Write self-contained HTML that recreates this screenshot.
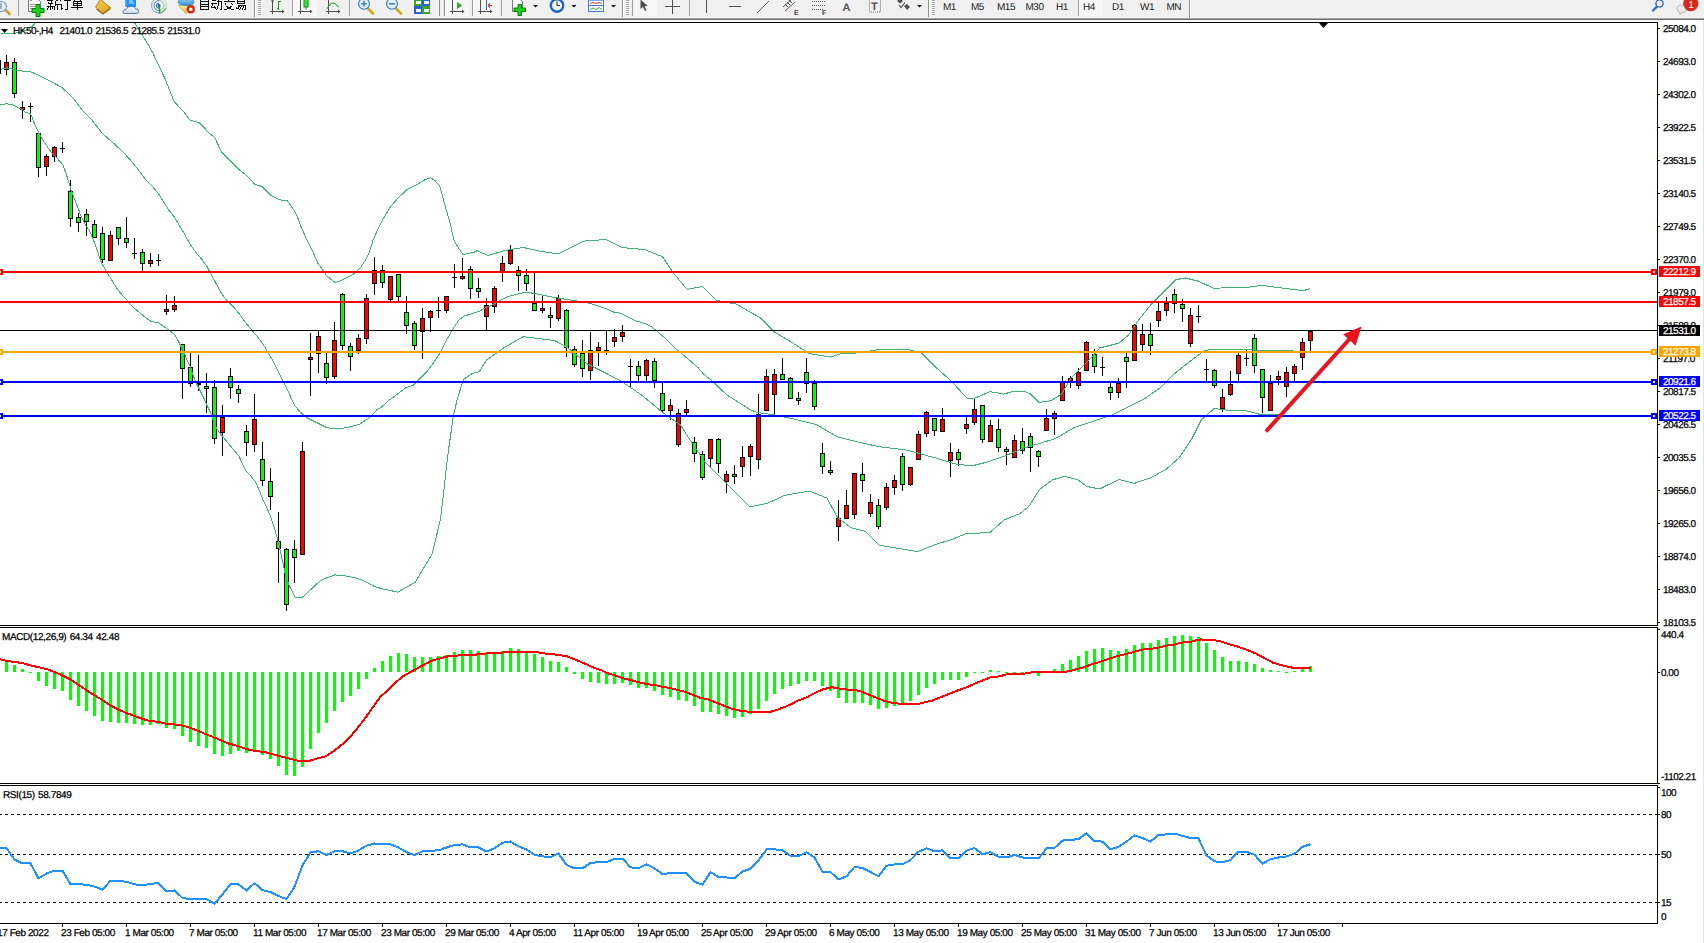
<!DOCTYPE html><html><head><meta charset="utf-8"><title>HK50 H4</title><style>html,body{margin:0;padding:0;background:#fff;overflow:hidden;width:1704px;height:943px}svg{display:block}text{font-family:"Liberation Sans",sans-serif;font-size:10px;letter-spacing:-0.5px;text-rendering:geometricPrecision;stroke-width:0.25px}</style></head><body>
<svg width="1704" height="943" viewBox="0 0 1704 943">
<rect x="0" y="0" width="1704" height="943" fill="#ffffff"/>
<g shape-rendering="crispEdges">
<rect x="-2" y="56" width="1" height="20" fill="#000"/>
<rect x="-4" y="60" width="5" height="14" fill="#000"/>
<rect x="-3" y="61" width="3" height="12" fill="#00ff00"/>
<rect x="6" y="55" width="1" height="20" fill="#000"/>
<rect x="4" y="62" width="5" height="8" fill="#000"/>
<rect x="5" y="63" width="3" height="6" fill="#ff0000"/>
<rect x="14" y="58" width="1" height="40" fill="#000"/>
<rect x="12" y="62" width="5" height="32" fill="#000"/>
<rect x="13" y="63" width="3" height="30" fill="#00ff00"/>
<rect x="22" y="101" width="1" height="18" fill="#000"/>
<rect x="20" y="107" width="5" height="3" fill="#000"/>
<rect x="21" y="108" width="3" height="1" fill="#ff0000"/>
<rect x="30" y="103" width="1" height="19" fill="#000"/>
<rect x="28" y="106" width="5" height="1" fill="#000"/>
<rect x="38" y="133" width="1" height="44" fill="#000"/>
<rect x="36" y="133" width="5" height="35" fill="#000"/>
<rect x="37" y="134" width="3" height="33" fill="#00ff00"/>
<rect x="46" y="154" width="1" height="22" fill="#000"/>
<rect x="44" y="156" width="5" height="11" fill="#000"/>
<rect x="45" y="157" width="3" height="9" fill="#ff0000"/>
<rect x="54" y="146" width="1" height="16" fill="#000"/>
<rect x="52" y="147" width="5" height="10" fill="#000"/>
<rect x="53" y="148" width="3" height="8" fill="#ff0000"/>
<rect x="62" y="142" width="1" height="11" fill="#000"/>
<rect x="60" y="148" width="5" height="1" fill="#000"/>
<rect x="70" y="180" width="1" height="47" fill="#000"/>
<rect x="68" y="191" width="5" height="28" fill="#000"/>
<rect x="69" y="192" width="3" height="26" fill="#00ff00"/>
<rect x="78" y="213" width="1" height="19" fill="#000"/>
<rect x="76" y="217" width="5" height="6" fill="#000"/>
<rect x="77" y="218" width="3" height="4" fill="#00ff00"/>
<rect x="86" y="209" width="1" height="27" fill="#000"/>
<rect x="84" y="214" width="5" height="8" fill="#000"/>
<rect x="85" y="215" width="3" height="6" fill="#00ff00"/>
<rect x="94" y="220" width="1" height="18" fill="#000"/>
<rect x="92" y="224" width="5" height="14" fill="#000"/>
<rect x="93" y="225" width="3" height="12" fill="#00ff00"/>
<rect x="102" y="227" width="1" height="36" fill="#000"/>
<rect x="100" y="233" width="5" height="27" fill="#000"/>
<rect x="101" y="234" width="3" height="25" fill="#00ff00"/>
<rect x="110" y="231" width="1" height="30" fill="#000"/>
<rect x="108" y="235" width="5" height="26" fill="#000"/>
<rect x="109" y="236" width="3" height="24" fill="#ff0000"/>
<rect x="118" y="227" width="1" height="18" fill="#000"/>
<rect x="116" y="227" width="5" height="12" fill="#000"/>
<rect x="117" y="228" width="3" height="10" fill="#00ff00"/>
<rect x="126" y="217" width="1" height="31" fill="#000"/>
<rect x="124" y="238" width="5" height="5" fill="#000"/>
<rect x="125" y="239" width="3" height="3" fill="#00ff00"/>
<rect x="134" y="238" width="1" height="21" fill="#000"/>
<rect x="132" y="253" width="5" height="1" fill="#000"/>
<rect x="142" y="249" width="1" height="22" fill="#000"/>
<rect x="140" y="252" width="5" height="12" fill="#000"/>
<rect x="141" y="253" width="3" height="10" fill="#00ff00"/>
<rect x="150" y="253" width="1" height="14" fill="#000"/>
<rect x="148" y="260" width="5" height="4" fill="#000"/>
<rect x="149" y="261" width="3" height="2" fill="#ff0000"/>
<rect x="158" y="254" width="1" height="12" fill="#000"/>
<rect x="156" y="260" width="5" height="1" fill="#000"/>
<rect x="166" y="295" width="1" height="20" fill="#000"/>
<rect x="164" y="309" width="5" height="3" fill="#000"/>
<rect x="165" y="310" width="3" height="1" fill="#ff0000"/>
<rect x="174" y="296" width="1" height="16" fill="#000"/>
<rect x="172" y="305" width="5" height="5" fill="#000"/>
<rect x="173" y="306" width="3" height="3" fill="#ff0000"/>
<rect x="182" y="344" width="1" height="55" fill="#000"/>
<rect x="180" y="344" width="5" height="25" fill="#000"/>
<rect x="181" y="345" width="3" height="23" fill="#00ff00"/>
<rect x="190" y="353" width="1" height="34" fill="#000"/>
<rect x="188" y="367" width="5" height="17" fill="#000"/>
<rect x="189" y="368" width="3" height="15" fill="#00ff00"/>
<rect x="198" y="355" width="1" height="36" fill="#000"/>
<rect x="196" y="383" width="5" height="2" fill="#000"/>
<rect x="206" y="373" width="1" height="40" fill="#000"/>
<rect x="204" y="386" width="5" height="3" fill="#000"/>
<rect x="205" y="387" width="3" height="1" fill="#00ff00"/>
<rect x="214" y="380" width="1" height="64" fill="#000"/>
<rect x="212" y="387" width="5" height="52" fill="#000"/>
<rect x="213" y="388" width="3" height="50" fill="#00ff00"/>
<rect x="222" y="405" width="1" height="51" fill="#000"/>
<rect x="220" y="417" width="5" height="16" fill="#000"/>
<rect x="221" y="418" width="3" height="14" fill="#ff0000"/>
<rect x="230" y="368" width="1" height="31" fill="#000"/>
<rect x="228" y="376" width="5" height="12" fill="#000"/>
<rect x="229" y="377" width="3" height="10" fill="#00ff00"/>
<rect x="238" y="385" width="1" height="18" fill="#000"/>
<rect x="236" y="389" width="5" height="5" fill="#000"/>
<rect x="237" y="390" width="3" height="3" fill="#00ff00"/>
<rect x="246" y="425" width="1" height="31" fill="#000"/>
<rect x="244" y="431" width="5" height="12" fill="#000"/>
<rect x="245" y="432" width="3" height="10" fill="#00ff00"/>
<rect x="254" y="394" width="1" height="58" fill="#000"/>
<rect x="252" y="419" width="5" height="26" fill="#000"/>
<rect x="253" y="420" width="3" height="24" fill="#ff0000"/>
<rect x="262" y="442" width="1" height="44" fill="#000"/>
<rect x="260" y="459" width="5" height="22" fill="#000"/>
<rect x="261" y="460" width="3" height="20" fill="#00ff00"/>
<rect x="270" y="468" width="1" height="42" fill="#000"/>
<rect x="268" y="481" width="5" height="16" fill="#000"/>
<rect x="269" y="482" width="3" height="14" fill="#00ff00"/>
<rect x="278" y="512" width="1" height="71" fill="#000"/>
<rect x="276" y="541" width="5" height="8" fill="#000"/>
<rect x="277" y="542" width="3" height="6" fill="#00ff00"/>
<rect x="286" y="548" width="1" height="63" fill="#000"/>
<rect x="284" y="549" width="5" height="56" fill="#000"/>
<rect x="285" y="550" width="3" height="54" fill="#00ff00"/>
<rect x="294" y="540" width="1" height="43" fill="#000"/>
<rect x="292" y="549" width="5" height="9" fill="#000"/>
<rect x="293" y="550" width="3" height="7" fill="#00ff00"/>
<rect x="302" y="442" width="1" height="113" fill="#000"/>
<rect x="300" y="451" width="5" height="104" fill="#000"/>
<rect x="301" y="452" width="3" height="102" fill="#ff0000"/>
<rect x="310" y="333" width="1" height="63" fill="#000"/>
<rect x="308" y="357" width="5" height="3" fill="#000"/>
<rect x="309" y="358" width="3" height="1" fill="#ff0000"/>
<rect x="318" y="331" width="1" height="42" fill="#000"/>
<rect x="316" y="336" width="5" height="18" fill="#000"/>
<rect x="317" y="337" width="3" height="16" fill="#ff0000"/>
<rect x="326" y="353" width="1" height="31" fill="#000"/>
<rect x="324" y="363" width="5" height="15" fill="#000"/>
<rect x="325" y="364" width="3" height="13" fill="#00ff00"/>
<rect x="334" y="322" width="1" height="57" fill="#000"/>
<rect x="332" y="340" width="5" height="37" fill="#000"/>
<rect x="333" y="341" width="3" height="35" fill="#ff0000"/>
<rect x="342" y="293" width="1" height="57" fill="#000"/>
<rect x="340" y="294" width="5" height="52" fill="#000"/>
<rect x="341" y="295" width="3" height="50" fill="#00ff00"/>
<rect x="350" y="343" width="1" height="28" fill="#000"/>
<rect x="348" y="346" width="5" height="11" fill="#000"/>
<rect x="349" y="347" width="3" height="9" fill="#00ff00"/>
<rect x="358" y="334" width="1" height="20" fill="#000"/>
<rect x="356" y="338" width="5" height="13" fill="#000"/>
<rect x="357" y="339" width="3" height="11" fill="#ff0000"/>
<rect x="366" y="294" width="1" height="50" fill="#000"/>
<rect x="364" y="298" width="5" height="41" fill="#000"/>
<rect x="365" y="299" width="3" height="39" fill="#ff0000"/>
<rect x="374" y="257" width="1" height="38" fill="#000"/>
<rect x="372" y="270" width="5" height="14" fill="#000"/>
<rect x="373" y="271" width="3" height="12" fill="#ff0000"/>
<rect x="382" y="265" width="1" height="23" fill="#000"/>
<rect x="380" y="270" width="5" height="13" fill="#000"/>
<rect x="381" y="271" width="3" height="11" fill="#00ff00"/>
<rect x="390" y="276" width="1" height="25" fill="#000"/>
<rect x="388" y="276" width="5" height="24" fill="#000"/>
<rect x="389" y="277" width="3" height="22" fill="#ff0000"/>
<rect x="398" y="274" width="1" height="27" fill="#000"/>
<rect x="396" y="274" width="5" height="23" fill="#000"/>
<rect x="397" y="275" width="3" height="21" fill="#00ff00"/>
<rect x="406" y="296" width="1" height="38" fill="#000"/>
<rect x="404" y="312" width="5" height="14" fill="#000"/>
<rect x="405" y="313" width="3" height="12" fill="#00ff00"/>
<rect x="414" y="321" width="1" height="29" fill="#000"/>
<rect x="412" y="323" width="5" height="23" fill="#000"/>
<rect x="413" y="324" width="3" height="21" fill="#00ff00"/>
<rect x="422" y="308" width="1" height="51" fill="#000"/>
<rect x="420" y="318" width="5" height="14" fill="#000"/>
<rect x="421" y="319" width="3" height="12" fill="#ff0000"/>
<rect x="430" y="310" width="1" height="22" fill="#000"/>
<rect x="428" y="311" width="5" height="7" fill="#000"/>
<rect x="429" y="312" width="3" height="5" fill="#ff0000"/>
<rect x="438" y="297" width="1" height="21" fill="#000"/>
<rect x="436" y="310" width="5" height="1" fill="#000"/>
<rect x="446" y="296" width="1" height="17" fill="#000"/>
<rect x="444" y="296" width="5" height="15" fill="#000"/>
<rect x="445" y="297" width="3" height="13" fill="#ff0000"/>
<rect x="454" y="264" width="1" height="24" fill="#000"/>
<rect x="452" y="277" width="5" height="1" fill="#000"/>
<rect x="462" y="258" width="1" height="22" fill="#000"/>
<rect x="460" y="276" width="5" height="3" fill="#000"/>
<rect x="461" y="277" width="3" height="1" fill="#ff0000"/>
<rect x="470" y="266" width="1" height="33" fill="#000"/>
<rect x="468" y="269" width="5" height="20" fill="#000"/>
<rect x="469" y="270" width="3" height="18" fill="#00ff00"/>
<rect x="478" y="278" width="1" height="20" fill="#000"/>
<rect x="476" y="288" width="5" height="4" fill="#000"/>
<rect x="477" y="289" width="3" height="2" fill="#00ff00"/>
<rect x="486" y="298" width="1" height="32" fill="#000"/>
<rect x="484" y="305" width="5" height="12" fill="#000"/>
<rect x="485" y="306" width="3" height="10" fill="#ff0000"/>
<rect x="494" y="286" width="1" height="27" fill="#000"/>
<rect x="492" y="288" width="5" height="19" fill="#000"/>
<rect x="493" y="289" width="3" height="17" fill="#ff0000"/>
<rect x="502" y="256" width="1" height="26" fill="#000"/>
<rect x="500" y="263" width="5" height="9" fill="#000"/>
<rect x="501" y="264" width="3" height="7" fill="#ff0000"/>
<rect x="510" y="245" width="1" height="20" fill="#000"/>
<rect x="508" y="250" width="5" height="14" fill="#000"/>
<rect x="509" y="251" width="3" height="12" fill="#ff0000"/>
<rect x="518" y="266" width="1" height="25" fill="#000"/>
<rect x="516" y="270" width="5" height="6" fill="#000"/>
<rect x="517" y="271" width="3" height="4" fill="#00ff00"/>
<rect x="526" y="269" width="1" height="22" fill="#000"/>
<rect x="524" y="275" width="5" height="9" fill="#000"/>
<rect x="525" y="276" width="3" height="7" fill="#00ff00"/>
<rect x="534" y="272" width="1" height="39" fill="#000"/>
<rect x="532" y="303" width="5" height="8" fill="#000"/>
<rect x="533" y="304" width="3" height="6" fill="#00ff00"/>
<rect x="542" y="295" width="1" height="18" fill="#000"/>
<rect x="540" y="308" width="5" height="3" fill="#000"/>
<rect x="541" y="309" width="3" height="1" fill="#ff0000"/>
<rect x="550" y="307" width="1" height="21" fill="#000"/>
<rect x="548" y="315" width="5" height="3" fill="#000"/>
<rect x="549" y="316" width="3" height="1" fill="#00ff00"/>
<rect x="558" y="295" width="1" height="26" fill="#000"/>
<rect x="556" y="298" width="5" height="21" fill="#000"/>
<rect x="557" y="299" width="3" height="19" fill="#ff0000"/>
<rect x="566" y="309" width="1" height="48" fill="#000"/>
<rect x="564" y="310" width="5" height="38" fill="#000"/>
<rect x="565" y="311" width="3" height="36" fill="#00ff00"/>
<rect x="574" y="346" width="1" height="21" fill="#000"/>
<rect x="572" y="349" width="5" height="16" fill="#000"/>
<rect x="573" y="350" width="3" height="14" fill="#00ff00"/>
<rect x="582" y="340" width="1" height="37" fill="#000"/>
<rect x="580" y="353" width="5" height="16" fill="#000"/>
<rect x="581" y="354" width="3" height="14" fill="#00ff00"/>
<rect x="590" y="332" width="1" height="48" fill="#000"/>
<rect x="588" y="350" width="5" height="21" fill="#000"/>
<rect x="589" y="351" width="3" height="19" fill="#ff0000"/>
<rect x="598" y="342" width="1" height="24" fill="#000"/>
<rect x="596" y="347" width="5" height="4" fill="#000"/>
<rect x="597" y="348" width="3" height="2" fill="#ff0000"/>
<rect x="606" y="331" width="1" height="24" fill="#000"/>
<rect x="604" y="350" width="5" height="1" fill="#000"/>
<rect x="614" y="329" width="1" height="18" fill="#000"/>
<rect x="612" y="337" width="5" height="5" fill="#000"/>
<rect x="613" y="338" width="3" height="3" fill="#ff0000"/>
<rect x="622" y="325" width="1" height="17" fill="#000"/>
<rect x="620" y="332" width="5" height="5" fill="#000"/>
<rect x="621" y="333" width="3" height="3" fill="#ff0000"/>
<rect x="630" y="359" width="1" height="29" fill="#000"/>
<rect x="628" y="366" width="5" height="1" fill="#000"/>
<rect x="638" y="361" width="1" height="20" fill="#000"/>
<rect x="636" y="366" width="5" height="10" fill="#000"/>
<rect x="637" y="367" width="3" height="8" fill="#00ff00"/>
<rect x="646" y="359" width="1" height="24" fill="#000"/>
<rect x="644" y="360" width="5" height="16" fill="#000"/>
<rect x="645" y="361" width="3" height="14" fill="#ff0000"/>
<rect x="654" y="358" width="1" height="30" fill="#000"/>
<rect x="652" y="361" width="5" height="20" fill="#000"/>
<rect x="653" y="362" width="3" height="18" fill="#00ff00"/>
<rect x="662" y="383" width="1" height="29" fill="#000"/>
<rect x="660" y="393" width="5" height="18" fill="#000"/>
<rect x="661" y="394" width="3" height="16" fill="#00ff00"/>
<rect x="670" y="399" width="1" height="21" fill="#000"/>
<rect x="668" y="405" width="5" height="6" fill="#000"/>
<rect x="669" y="406" width="3" height="4" fill="#ff0000"/>
<rect x="678" y="409" width="1" height="38" fill="#000"/>
<rect x="676" y="413" width="5" height="32" fill="#000"/>
<rect x="677" y="414" width="3" height="30" fill="#ff0000"/>
<rect x="686" y="400" width="1" height="15" fill="#000"/>
<rect x="684" y="409" width="5" height="4" fill="#000"/>
<rect x="685" y="410" width="3" height="2" fill="#ff0000"/>
<rect x="694" y="437" width="1" height="25" fill="#000"/>
<rect x="692" y="442" width="5" height="12" fill="#000"/>
<rect x="693" y="443" width="3" height="10" fill="#00ff00"/>
<rect x="702" y="451" width="1" height="29" fill="#000"/>
<rect x="700" y="454" width="5" height="24" fill="#000"/>
<rect x="701" y="455" width="3" height="22" fill="#00ff00"/>
<rect x="710" y="439" width="1" height="29" fill="#000"/>
<rect x="708" y="439" width="5" height="20" fill="#000"/>
<rect x="709" y="440" width="3" height="18" fill="#ff0000"/>
<rect x="718" y="438" width="1" height="35" fill="#000"/>
<rect x="716" y="439" width="5" height="25" fill="#000"/>
<rect x="717" y="440" width="3" height="23" fill="#00ff00"/>
<rect x="726" y="471" width="1" height="22" fill="#000"/>
<rect x="724" y="474" width="5" height="8" fill="#000"/>
<rect x="725" y="475" width="3" height="6" fill="#ff0000"/>
<rect x="734" y="465" width="1" height="19" fill="#000"/>
<rect x="732" y="474" width="5" height="3" fill="#000"/>
<rect x="733" y="475" width="3" height="1" fill="#00ff00"/>
<rect x="742" y="446" width="1" height="31" fill="#000"/>
<rect x="740" y="457" width="5" height="10" fill="#000"/>
<rect x="741" y="458" width="3" height="8" fill="#ff0000"/>
<rect x="750" y="444" width="1" height="32" fill="#000"/>
<rect x="748" y="446" width="5" height="11" fill="#000"/>
<rect x="749" y="447" width="3" height="9" fill="#ff0000"/>
<rect x="758" y="394" width="1" height="75" fill="#000"/>
<rect x="756" y="414" width="5" height="46" fill="#000"/>
<rect x="757" y="415" width="3" height="44" fill="#ff0000"/>
<rect x="766" y="369" width="1" height="42" fill="#000"/>
<rect x="764" y="376" width="5" height="35" fill="#000"/>
<rect x="765" y="377" width="3" height="33" fill="#ff0000"/>
<rect x="774" y="369" width="1" height="46" fill="#000"/>
<rect x="772" y="374" width="5" height="21" fill="#000"/>
<rect x="773" y="375" width="3" height="19" fill="#ff0000"/>
<rect x="782" y="358" width="1" height="22" fill="#000"/>
<rect x="780" y="374" width="5" height="6" fill="#000"/>
<rect x="781" y="375" width="3" height="4" fill="#00ff00"/>
<rect x="790" y="377" width="1" height="22" fill="#000"/>
<rect x="788" y="378" width="5" height="21" fill="#000"/>
<rect x="789" y="379" width="3" height="19" fill="#00ff00"/>
<rect x="798" y="392" width="1" height="13" fill="#000"/>
<rect x="796" y="398" width="5" height="3" fill="#000"/>
<rect x="797" y="399" width="3" height="1" fill="#00ff00"/>
<rect x="806" y="358" width="1" height="35" fill="#000"/>
<rect x="804" y="372" width="5" height="12" fill="#000"/>
<rect x="805" y="373" width="3" height="10" fill="#00ff00"/>
<rect x="814" y="380" width="1" height="30" fill="#000"/>
<rect x="812" y="383" width="5" height="24" fill="#000"/>
<rect x="813" y="384" width="3" height="22" fill="#00ff00"/>
<rect x="822" y="443" width="1" height="31" fill="#000"/>
<rect x="820" y="453" width="5" height="14" fill="#000"/>
<rect x="821" y="454" width="3" height="12" fill="#00ff00"/>
<rect x="830" y="461" width="1" height="14" fill="#000"/>
<rect x="828" y="470" width="5" height="3" fill="#000"/>
<rect x="829" y="471" width="3" height="1" fill="#00ff00"/>
<rect x="838" y="500" width="1" height="41" fill="#000"/>
<rect x="836" y="518" width="5" height="9" fill="#000"/>
<rect x="837" y="519" width="3" height="7" fill="#ff0000"/>
<rect x="846" y="490" width="1" height="29" fill="#000"/>
<rect x="844" y="505" width="5" height="14" fill="#000"/>
<rect x="845" y="506" width="3" height="12" fill="#ff0000"/>
<rect x="854" y="473" width="1" height="46" fill="#000"/>
<rect x="852" y="473" width="5" height="42" fill="#000"/>
<rect x="853" y="474" width="3" height="40" fill="#ff0000"/>
<rect x="862" y="463" width="1" height="29" fill="#000"/>
<rect x="860" y="474" width="5" height="7" fill="#000"/>
<rect x="861" y="475" width="3" height="5" fill="#00ff00"/>
<rect x="870" y="494" width="1" height="23" fill="#000"/>
<rect x="868" y="502" width="5" height="12" fill="#000"/>
<rect x="869" y="503" width="3" height="10" fill="#ff0000"/>
<rect x="878" y="499" width="1" height="30" fill="#000"/>
<rect x="876" y="505" width="5" height="22" fill="#000"/>
<rect x="877" y="506" width="3" height="20" fill="#00ff00"/>
<rect x="886" y="483" width="1" height="27" fill="#000"/>
<rect x="884" y="487" width="5" height="21" fill="#000"/>
<rect x="885" y="488" width="3" height="19" fill="#ff0000"/>
<rect x="894" y="475" width="1" height="20" fill="#000"/>
<rect x="892" y="480" width="5" height="8" fill="#000"/>
<rect x="893" y="481" width="3" height="6" fill="#ff0000"/>
<rect x="902" y="453" width="1" height="38" fill="#000"/>
<rect x="900" y="456" width="5" height="29" fill="#000"/>
<rect x="901" y="457" width="3" height="27" fill="#00ff00"/>
<rect x="910" y="467" width="1" height="19" fill="#000"/>
<rect x="908" y="467" width="5" height="18" fill="#000"/>
<rect x="909" y="468" width="3" height="16" fill="#ff0000"/>
<rect x="918" y="431" width="1" height="29" fill="#000"/>
<rect x="916" y="434" width="5" height="26" fill="#000"/>
<rect x="917" y="435" width="3" height="24" fill="#ff0000"/>
<rect x="926" y="411" width="1" height="26" fill="#000"/>
<rect x="924" y="412" width="5" height="22" fill="#000"/>
<rect x="925" y="413" width="3" height="20" fill="#ff0000"/>
<rect x="934" y="418" width="1" height="18" fill="#000"/>
<rect x="932" y="418" width="5" height="13" fill="#000"/>
<rect x="933" y="419" width="3" height="11" fill="#00ff00"/>
<rect x="942" y="408" width="1" height="24" fill="#000"/>
<rect x="940" y="419" width="5" height="13" fill="#000"/>
<rect x="941" y="420" width="3" height="11" fill="#ff0000"/>
<rect x="950" y="443" width="1" height="34" fill="#000"/>
<rect x="948" y="452" width="5" height="9" fill="#000"/>
<rect x="949" y="453" width="3" height="7" fill="#ff0000"/>
<rect x="958" y="449" width="1" height="17" fill="#000"/>
<rect x="956" y="452" width="5" height="8" fill="#000"/>
<rect x="957" y="453" width="3" height="6" fill="#00ff00"/>
<rect x="966" y="417" width="1" height="17" fill="#000"/>
<rect x="964" y="424" width="5" height="5" fill="#000"/>
<rect x="965" y="425" width="3" height="3" fill="#ff0000"/>
<rect x="974" y="398" width="1" height="27" fill="#000"/>
<rect x="972" y="409" width="5" height="14" fill="#000"/>
<rect x="973" y="410" width="3" height="12" fill="#ff0000"/>
<rect x="982" y="405" width="1" height="38" fill="#000"/>
<rect x="980" y="405" width="5" height="35" fill="#000"/>
<rect x="981" y="406" width="3" height="33" fill="#00ff00"/>
<rect x="990" y="420" width="1" height="22" fill="#000"/>
<rect x="988" y="425" width="5" height="17" fill="#000"/>
<rect x="989" y="426" width="3" height="15" fill="#ff0000"/>
<rect x="998" y="419" width="1" height="33" fill="#000"/>
<rect x="996" y="429" width="5" height="19" fill="#000"/>
<rect x="997" y="430" width="3" height="17" fill="#00ff00"/>
<rect x="1006" y="447" width="1" height="18" fill="#000"/>
<rect x="1004" y="449" width="5" height="3" fill="#000"/>
<rect x="1005" y="450" width="3" height="1" fill="#00ff00"/>
<rect x="1014" y="435" width="1" height="23" fill="#000"/>
<rect x="1012" y="440" width="5" height="18" fill="#000"/>
<rect x="1013" y="441" width="3" height="16" fill="#ff0000"/>
<rect x="1022" y="428" width="1" height="26" fill="#000"/>
<rect x="1020" y="441" width="5" height="10" fill="#000"/>
<rect x="1021" y="442" width="3" height="8" fill="#00ff00"/>
<rect x="1030" y="433" width="1" height="39" fill="#000"/>
<rect x="1028" y="436" width="5" height="12" fill="#000"/>
<rect x="1029" y="437" width="3" height="10" fill="#00ff00"/>
<rect x="1038" y="450" width="1" height="17" fill="#000"/>
<rect x="1036" y="451" width="5" height="6" fill="#000"/>
<rect x="1037" y="452" width="3" height="4" fill="#00ff00"/>
<rect x="1046" y="409" width="1" height="22" fill="#000"/>
<rect x="1044" y="418" width="5" height="13" fill="#000"/>
<rect x="1045" y="419" width="3" height="11" fill="#ff0000"/>
<rect x="1054" y="411" width="1" height="24" fill="#000"/>
<rect x="1052" y="413" width="5" height="6" fill="#000"/>
<rect x="1053" y="414" width="3" height="4" fill="#ff0000"/>
<rect x="1062" y="376" width="1" height="25" fill="#000"/>
<rect x="1060" y="382" width="5" height="19" fill="#000"/>
<rect x="1061" y="383" width="3" height="17" fill="#ff0000"/>
<rect x="1070" y="376" width="1" height="12" fill="#000"/>
<rect x="1068" y="378" width="5" height="4" fill="#000"/>
<rect x="1069" y="379" width="3" height="2" fill="#ff0000"/>
<rect x="1078" y="368" width="1" height="21" fill="#000"/>
<rect x="1076" y="372" width="5" height="14" fill="#000"/>
<rect x="1077" y="373" width="3" height="12" fill="#ff0000"/>
<rect x="1086" y="341" width="1" height="30" fill="#000"/>
<rect x="1084" y="342" width="5" height="29" fill="#000"/>
<rect x="1085" y="343" width="3" height="27" fill="#ff0000"/>
<rect x="1094" y="349" width="1" height="24" fill="#000"/>
<rect x="1092" y="354" width="5" height="13" fill="#000"/>
<rect x="1093" y="355" width="3" height="11" fill="#00ff00"/>
<rect x="1102" y="357" width="1" height="19" fill="#000"/>
<rect x="1100" y="367" width="5" height="1" fill="#000"/>
<rect x="1110" y="383" width="1" height="17" fill="#000"/>
<rect x="1108" y="387" width="5" height="6" fill="#000"/>
<rect x="1109" y="388" width="3" height="4" fill="#00ff00"/>
<rect x="1118" y="378" width="1" height="20" fill="#000"/>
<rect x="1116" y="383" width="5" height="10" fill="#000"/>
<rect x="1117" y="384" width="3" height="8" fill="#ff0000"/>
<rect x="1126" y="353" width="1" height="35" fill="#000"/>
<rect x="1124" y="357" width="5" height="5" fill="#000"/>
<rect x="1125" y="358" width="3" height="3" fill="#00ff00"/>
<rect x="1134" y="324" width="1" height="37" fill="#000"/>
<rect x="1132" y="325" width="5" height="36" fill="#000"/>
<rect x="1133" y="326" width="3" height="34" fill="#ff0000"/>
<rect x="1142" y="324" width="1" height="27" fill="#000"/>
<rect x="1140" y="334" width="5" height="11" fill="#000"/>
<rect x="1141" y="335" width="3" height="9" fill="#ff0000"/>
<rect x="1150" y="323" width="1" height="32" fill="#000"/>
<rect x="1148" y="334" width="5" height="12" fill="#000"/>
<rect x="1149" y="335" width="3" height="10" fill="#00ff00"/>
<rect x="1158" y="303" width="1" height="24" fill="#000"/>
<rect x="1156" y="311" width="5" height="10" fill="#000"/>
<rect x="1157" y="312" width="3" height="8" fill="#ff0000"/>
<rect x="1166" y="297" width="1" height="19" fill="#000"/>
<rect x="1164" y="303" width="5" height="8" fill="#000"/>
<rect x="1165" y="304" width="3" height="6" fill="#ff0000"/>
<rect x="1174" y="289" width="1" height="24" fill="#000"/>
<rect x="1172" y="294" width="5" height="10" fill="#000"/>
<rect x="1173" y="295" width="3" height="8" fill="#00ff00"/>
<rect x="1182" y="299" width="1" height="23" fill="#000"/>
<rect x="1180" y="304" width="5" height="5" fill="#000"/>
<rect x="1181" y="305" width="3" height="3" fill="#00ff00"/>
<rect x="1190" y="308" width="1" height="39" fill="#000"/>
<rect x="1188" y="315" width="5" height="29" fill="#000"/>
<rect x="1189" y="316" width="3" height="27" fill="#ff0000"/>
<rect x="1198" y="305" width="1" height="18" fill="#000"/>
<rect x="1196" y="316" width="5" height="1" fill="#000"/>
<rect x="1206" y="359" width="1" height="22" fill="#000"/>
<rect x="1204" y="369" width="5" height="1" fill="#000"/>
<rect x="1214" y="369" width="1" height="19" fill="#000"/>
<rect x="1212" y="370" width="5" height="16" fill="#000"/>
<rect x="1213" y="371" width="3" height="14" fill="#00ff00"/>
<rect x="1222" y="389" width="1" height="23" fill="#000"/>
<rect x="1220" y="397" width="5" height="12" fill="#000"/>
<rect x="1221" y="398" width="3" height="10" fill="#ff0000"/>
<rect x="1230" y="371" width="1" height="25" fill="#000"/>
<rect x="1228" y="384" width="5" height="11" fill="#000"/>
<rect x="1229" y="385" width="3" height="9" fill="#ff0000"/>
<rect x="1238" y="353" width="1" height="28" fill="#000"/>
<rect x="1236" y="355" width="5" height="19" fill="#000"/>
<rect x="1237" y="356" width="3" height="17" fill="#ff0000"/>
<rect x="1246" y="350" width="1" height="16" fill="#000"/>
<rect x="1244" y="358" width="5" height="1" fill="#000"/>
<rect x="1254" y="334" width="1" height="39" fill="#000"/>
<rect x="1252" y="338" width="5" height="28" fill="#000"/>
<rect x="1253" y="339" width="3" height="26" fill="#00ff00"/>
<rect x="1262" y="369" width="1" height="44" fill="#000"/>
<rect x="1260" y="369" width="5" height="29" fill="#000"/>
<rect x="1261" y="370" width="3" height="27" fill="#00ff00"/>
<rect x="1270" y="375" width="1" height="36" fill="#000"/>
<rect x="1268" y="383" width="5" height="28" fill="#000"/>
<rect x="1269" y="384" width="3" height="26" fill="#ff0000"/>
<rect x="1278" y="371" width="1" height="14" fill="#000"/>
<rect x="1276" y="376" width="5" height="4" fill="#000"/>
<rect x="1277" y="377" width="3" height="2" fill="#ff0000"/>
<rect x="1286" y="367" width="1" height="30" fill="#000"/>
<rect x="1284" y="372" width="5" height="15" fill="#000"/>
<rect x="1285" y="373" width="3" height="13" fill="#ff0000"/>
<rect x="1294" y="364" width="1" height="17" fill="#000"/>
<rect x="1292" y="366" width="5" height="8" fill="#000"/>
<rect x="1293" y="367" width="3" height="6" fill="#ff0000"/>
<rect x="1302" y="338" width="1" height="32" fill="#000"/>
<rect x="1300" y="342" width="5" height="16" fill="#000"/>
<rect x="1301" y="343" width="3" height="14" fill="#ff0000"/>
<rect x="1310" y="330" width="1" height="21" fill="#000"/>
<rect x="1308" y="331" width="5" height="10" fill="#000"/>
<rect x="1309" y="332" width="3" height="8" fill="#ff0000"/>
</g>
<g>
<polyline points="0.5,34.1 2.8,33.7 15.8,33 20.5,32.2 25.1,30.5 31,27.5 34.5,23.8 36.5,20.5" fill="none" stroke="#3cb371" stroke-width="1" stroke-linejoin="round" shape-rendering="crispEdges"/>
<polyline points="133.5,20.5 134.9,23.4 141.3,33.4 148.4,45.1 153.1,53.4 157.8,63.9 164.8,78 174.2,101.7 184.1,112.2 190,120.3 195.8,121.7 199.3,122.7 209.8,133.7 214.5,137.2 221.5,151.8 226.1,156.5 234.3,164.6 240.1,170.5 244.8,174 245.5,174.3 250.6,179.4 255,184.5 262,186.4 271,195.3 279.2,199.8 287.5,201 293.9,210 297.7,217.6 301.5,227.8 306.6,239.2 312.9,251.9 318,263.4 324.4,272.3 326.9,276.1 335.2,282.5 339.7,281 352.4,274.9 356.8,271.1 360.6,267.3 365.7,259.7 369.5,252 373.3,239.3 381,222.8 389.9,207.5 397.5,198.6 407.7,189 417.9,184 424.2,180.1 430.6,177.8 434.4,180.1 439.5,185.2 444.6,203.7 449.7,221.5 454.1,240.6 458.6,248.2 463,254.6 466.2,253.9 475.5,251.8 477,250.7 488.2,255.5 504.1,250.7 523.1,247.5 542.2,251.6 558.1,253.9 574,245.9 583.5,241.1 605.8,239.5 621.7,247.5 645,249.7 662.5,256.7 673,272.5 687,289.3 702.7,286.5 716.7,300.5 735.9,304 760.5,317.9 774.4,331.9 791.9,342.5 809.4,353.6 830.4,357.1 840.9,353.6 858.3,352.9 879.3,349.4 907.3,349.4 921.3,352.9 935.3,366.9 950.8,380.5 966.7,398 975.2,398 990,391.6 1003.8,394.1 1012.3,391.6 1025,391.6 1030.3,393.8 1038.8,402.2 1047.3,401.7 1051.9,399.9 1061.5,394.2 1071,378.3 1080.5,368.7 1090.1,359.2 1099.6,348 1118.7,343.2 1128.3,335.3 1137.8,321 1150.5,305.1 1163.3,292.3 1176,279.6 1185.5,278 1198.3,281.2 1214.2,288.5 1226.9,287.5 1246,287.5 1261.9,285.3 1277.9,287.5 1290.6,289.1 1303.3,290.7 1310.5,288.5" fill="none" stroke="#3cb371" stroke-width="1" stroke-linejoin="round" shape-rendering="crispEdges"/>
<polyline points="0.5,69.2 7.5,68 19.3,70.7 31.6,72.1 41.6,76.8 51,81.5 61.5,87.2 72.1,96.8 82.6,110.5 90.8,118.7 101.3,132.1 106,136.7 114.1,143.7 122.3,151.3 130.5,160.1 137.5,168.8 142.2,175.1 146.8,181 152.7,186.8 158.5,193.8 164.3,203.1 169.1,210.5 173.8,216.3 179.6,225.7 184.3,233.8 190.1,244.3 196,252.5 201.3,258.7 207.2,266.8 210.7,273.8 216.5,284.3 222.3,294.8 228.2,301.8 234,307.6 239.8,314.6 245.6,322.8 251.5,329.8 258.5,338 264.3,346.1 267.8,352 272.2,359.5 278,371.2 283.8,382.8 288.5,392.1 294.3,405 300.2,412 307.1,417.8 316.5,422.5 327,427.7 334,428.9 342.1,428.3 351.5,426.5 359.6,424.2 367.8,419 372.5,414.3 377.1,409.6 380.5,407.9 389.2,400.1 397.3,394.3 405.5,387.9 413.6,385 419.5,379.1 426.5,372.1 433.5,362.8 440.5,352.3 446.3,340.6 452.1,330.2 459.1,319.7 463.8,316.2 473.1,313.2 479,311.5 486,307.4 490.5,305.7 507.2,296.8 526.3,292 555,297.5 580.4,301.6 590.5,303.4 600,306.7 605.8,308.6 613.4,312 621,313.4 628.7,317.2 636.3,321 645.8,323.9 651.6,326.8 656.3,330.6 663,336.3 669.7,343 674.5,347.8 679.2,351.6 685.9,357.3 690.5,361.1 698.6,368.2 703.4,373.9 708.2,377.7 712.9,381.5 721.5,390.1 728.2,395.8 735.8,400.6 743.5,405.4 751.1,410.2 757.8,412.5 763.5,413.5 773.1,414.7 795.4,419.4 816.4,424.6 837.4,436.9 858.3,442.1 879.3,446.7 907.3,450.2 935.3,457.9 956.4,464.2 972.3,465.8 985.1,462.6 1004.2,456.2 1023.2,448.3 1036,444.5 1055.1,438.7 1074.2,427.6 1093.3,421.2 1112.4,414.9 1131.5,405.3 1144.2,398.9 1160.1,387.8 1172.8,375.1 1188.8,362.3 1204.7,350.3 1217.4,349 1239.7,349 1258.8,350.3 1277.9,350.5 1289,350.3 1296.5,351.5 1310.5,351.5" fill="none" stroke="#3cb371" stroke-width="1" stroke-linejoin="round" shape-rendering="crispEdges"/>
<polyline points="0.5,104.8 6.4,103.8 12.2,104.8 21.6,109.1 25.5,112.2 30.7,114 34.8,124.5 38.9,133.2 44.2,142 48.8,149 53.5,154.8 58.2,159.5 62.8,164.7 65.7,172.3 68.6,181.6 71,189.8 74.5,199.1 79.1,210.8 80.5,215.2 85.2,224.5 89.8,231.5 93.3,239.7 96.8,249 101.5,263 106.2,271.1 112,280.5 117.8,289.8 123.6,296.8 128.3,301.5 131.8,306.1 138.8,312 145.5,317.5 151.3,321.6 158.3,322.7 164.2,326.8 170,330.9 174.1,333.8 178.2,340.8 181.7,347.8 186.3,358.3 189.8,365.3 193.3,375.8 196.8,384 200.3,391 203.8,398 207.3,406.1 210.8,413.1 213.1,420.5 216,427.2 220.7,434.2 226.5,441.2 232.3,448.2 238.7,455.7 242.8,464.5 246.3,471.5 251,476.1 255.6,482 259.1,490.1 263.8,501.8 267.3,508.8 270.8,517 274.2,527.7 277.7,539.3 280,549.8 283.5,565 285.8,576.6 289.3,586 295.2,597.6 302.7,597 311.5,588.9 319.6,581.3 325.5,578.4 334.8,574.9 344.1,575.7 355.8,577.8 365.1,581.3 374.5,586.5 382.5,588.9 397.7,592.1 414.9,582.6 432.1,554 440.7,518.1 447.8,455.1 453.5,415 457.3,399.2 463.6,379.2 472.2,373.5 479.4,371.5 486.5,360 504.1,347.7 523.1,336.6 555,340.7 567.7,347.7 586.8,363.6 605.8,373.1 620.5,380.9 641.5,394.9 662.5,412.4 680,424.6 690.5,440.4 704.4,461.3 725.4,482.3 749.9,506.8 767.4,503.3 784.9,495.3 809.4,491.1 826.9,498.1 837.4,517.3 851.3,527.8 865.3,531.3 879.3,545.3 900.3,548.8 917.8,551.6 935.3,544.6 953.2,539 966,533.6 989.8,532.6 1004.2,519.9 1020.1,513.5 1029.6,505.6 1039.2,489.7 1051.9,480.1 1064.6,476.3 1077.4,479.5 1086.9,486.5 1099.6,489 1118.7,479.5 1134.6,483.3 1150.5,477.9 1166.5,469 1179.2,457.8 1191.9,438.7 1201.5,419.6 1214.2,408.5 1226.9,410.1 1246,410.7 1261.9,414.9 1274.7,414.9 1310.5,415.5" fill="none" stroke="#3cb371" stroke-width="1" stroke-linejoin="round" shape-rendering="crispEdges"/>
</g>
<g shape-rendering="crispEdges">
<rect x="0" y="271" width="1657" height="2" fill="#ff0000"/>
<rect x="-3" y="269" width="6" height="6" fill="#ff0000"/>
<rect x="-1" y="271" width="2" height="2" fill="#ffffff"/>
<rect x="1651" y="269" width="6" height="6" fill="#ff0000"/>
<rect x="1653" y="271" width="2" height="2" fill="#ffffff"/>
<rect x="0" y="301" width="1657" height="2" fill="#ff0000"/>
<rect x="0" y="330" width="1657" height="1" fill="#000000"/>
<rect x="0" y="351" width="1657" height="2" fill="#ffa500"/>
<rect x="-3" y="349" width="6" height="6" fill="#ffa500"/>
<rect x="-1" y="351" width="2" height="2" fill="#ffffff"/>
<rect x="1651" y="349" width="6" height="6" fill="#ffa500"/>
<rect x="1653" y="351" width="2" height="2" fill="#ffffff"/>
<rect x="0" y="381" width="1657" height="2" fill="#0000ff"/>
<rect x="-3" y="379" width="6" height="6" fill="#0000ff"/>
<rect x="-1" y="381" width="2" height="2" fill="#ffffff"/>
<rect x="1651" y="379" width="6" height="6" fill="#0000ff"/>
<rect x="1653" y="381" width="2" height="2" fill="#ffffff"/>
<rect x="0" y="415" width="1657" height="2" fill="#0000ff"/>
<rect x="-3" y="413" width="6" height="6" fill="#0000ff"/>
<rect x="-1" y="415" width="2" height="2" fill="#ffffff"/>
<rect x="1651" y="413" width="6" height="6" fill="#0000ff"/>
<rect x="1653" y="415" width="2" height="2" fill="#ffffff"/>
</g>
<g fill="#e8141e" stroke="none">
<line x1="1266" y1="431.5" x2="1350" y2="338.5" stroke="#e8141e" stroke-width="4"/>
<polygon points="1361.5,326.5 1343.2,334.2 1355.6,345.8"/>
</g>
<g shape-rendering="crispEdges">
<rect x="5" y="662" width="3" height="10" fill="#00ff00"/>
<rect x="13" y="665" width="3" height="7" fill="#00ff00"/>
<rect x="21" y="669" width="3" height="3" fill="#00ff00"/>
<rect x="29" y="672" width="3" height="1" fill="#00ff00"/>
<rect x="37" y="672" width="3" height="9" fill="#00ff00"/>
<rect x="45" y="672" width="3" height="14" fill="#00ff00"/>
<rect x="53" y="672" width="3" height="17" fill="#00ff00"/>
<rect x="61" y="672" width="3" height="19" fill="#00ff00"/>
<rect x="69" y="672" width="3" height="28" fill="#00ff00"/>
<rect x="77" y="672" width="3" height="34" fill="#00ff00"/>
<rect x="85" y="672" width="3" height="39" fill="#00ff00"/>
<rect x="93" y="672" width="3" height="44" fill="#00ff00"/>
<rect x="101" y="672" width="3" height="49" fill="#00ff00"/>
<rect x="109" y="672" width="3" height="50" fill="#00ff00"/>
<rect x="117" y="672" width="3" height="51" fill="#00ff00"/>
<rect x="125" y="672" width="3" height="51" fill="#00ff00"/>
<rect x="133" y="672" width="3" height="52" fill="#00ff00"/>
<rect x="141" y="672" width="3" height="53" fill="#00ff00"/>
<rect x="149" y="672" width="3" height="53" fill="#00ff00"/>
<rect x="157" y="672" width="3" height="52" fill="#00ff00"/>
<rect x="165" y="672" width="3" height="56" fill="#00ff00"/>
<rect x="173" y="672" width="3" height="57" fill="#00ff00"/>
<rect x="181" y="672" width="3" height="64" fill="#00ff00"/>
<rect x="189" y="672" width="3" height="70" fill="#00ff00"/>
<rect x="197" y="672" width="3" height="74" fill="#00ff00"/>
<rect x="205" y="672" width="3" height="76" fill="#00ff00"/>
<rect x="213" y="672" width="3" height="82" fill="#00ff00"/>
<rect x="221" y="672" width="3" height="84" fill="#00ff00"/>
<rect x="229" y="672" width="3" height="82" fill="#00ff00"/>
<rect x="237" y="672" width="3" height="79" fill="#00ff00"/>
<rect x="245" y="672" width="3" height="81" fill="#00ff00"/>
<rect x="253" y="672" width="3" height="79" fill="#00ff00"/>
<rect x="261" y="672" width="3" height="83" fill="#00ff00"/>
<rect x="269" y="672" width="3" height="87" fill="#00ff00"/>
<rect x="277" y="672" width="3" height="94" fill="#00ff00"/>
<rect x="285" y="672" width="3" height="103" fill="#00ff00"/>
<rect x="293" y="672" width="3" height="104" fill="#00ff00"/>
<rect x="301" y="672" width="3" height="95" fill="#00ff00"/>
<rect x="309" y="672" width="3" height="77" fill="#00ff00"/>
<rect x="317" y="672" width="3" height="61" fill="#00ff00"/>
<rect x="325" y="672" width="3" height="51" fill="#00ff00"/>
<rect x="333" y="672" width="3" height="39" fill="#00ff00"/>
<rect x="341" y="672" width="3" height="30" fill="#00ff00"/>
<rect x="349" y="672" width="3" height="24" fill="#00ff00"/>
<rect x="357" y="672" width="3" height="17" fill="#00ff00"/>
<rect x="365" y="672" width="3" height="7" fill="#00ff00"/>
<rect x="373" y="668" width="3" height="4" fill="#00ff00"/>
<rect x="381" y="661" width="3" height="11" fill="#00ff00"/>
<rect x="389" y="656" width="3" height="16" fill="#00ff00"/>
<rect x="397" y="653" width="3" height="19" fill="#00ff00"/>
<rect x="405" y="654" width="3" height="18" fill="#00ff00"/>
<rect x="413" y="657" width="3" height="15" fill="#00ff00"/>
<rect x="421" y="657" width="3" height="15" fill="#00ff00"/>
<rect x="429" y="657" width="3" height="15" fill="#00ff00"/>
<rect x="437" y="656" width="3" height="16" fill="#00ff00"/>
<rect x="445" y="655" width="3" height="17" fill="#00ff00"/>
<rect x="453" y="652" width="3" height="20" fill="#00ff00"/>
<rect x="461" y="650" width="3" height="22" fill="#00ff00"/>
<rect x="469" y="650" width="3" height="22" fill="#00ff00"/>
<rect x="477" y="651" width="3" height="21" fill="#00ff00"/>
<rect x="485" y="654" width="3" height="18" fill="#00ff00"/>
<rect x="493" y="654" width="3" height="18" fill="#00ff00"/>
<rect x="501" y="651" width="3" height="21" fill="#00ff00"/>
<rect x="509" y="648" width="3" height="24" fill="#00ff00"/>
<rect x="517" y="649" width="3" height="23" fill="#00ff00"/>
<rect x="525" y="651" width="3" height="21" fill="#00ff00"/>
<rect x="533" y="654" width="3" height="18" fill="#00ff00"/>
<rect x="541" y="657" width="3" height="15" fill="#00ff00"/>
<rect x="549" y="661" width="3" height="11" fill="#00ff00"/>
<rect x="557" y="662" width="3" height="10" fill="#00ff00"/>
<rect x="565" y="667" width="3" height="5" fill="#00ff00"/>
<rect x="573" y="672" width="3" height="2" fill="#00ff00"/>
<rect x="581" y="672" width="3" height="7" fill="#00ff00"/>
<rect x="589" y="672" width="3" height="10" fill="#00ff00"/>
<rect x="597" y="672" width="3" height="11" fill="#00ff00"/>
<rect x="605" y="672" width="3" height="12" fill="#00ff00"/>
<rect x="613" y="672" width="3" height="12" fill="#00ff00"/>
<rect x="621" y="672" width="3" height="11" fill="#00ff00"/>
<rect x="629" y="672" width="3" height="13" fill="#00ff00"/>
<rect x="637" y="672" width="3" height="16" fill="#00ff00"/>
<rect x="645" y="672" width="3" height="16" fill="#00ff00"/>
<rect x="653" y="672" width="3" height="19" fill="#00ff00"/>
<rect x="661" y="672" width="3" height="23" fill="#00ff00"/>
<rect x="669" y="672" width="3" height="25" fill="#00ff00"/>
<rect x="677" y="672" width="3" height="28" fill="#00ff00"/>
<rect x="685" y="672" width="3" height="29" fill="#00ff00"/>
<rect x="693" y="672" width="3" height="34" fill="#00ff00"/>
<rect x="701" y="672" width="3" height="40" fill="#00ff00"/>
<rect x="709" y="672" width="3" height="40" fill="#00ff00"/>
<rect x="717" y="672" width="3" height="42" fill="#00ff00"/>
<rect x="725" y="672" width="3" height="44" fill="#00ff00"/>
<rect x="733" y="672" width="3" height="46" fill="#00ff00"/>
<rect x="741" y="672" width="3" height="45" fill="#00ff00"/>
<rect x="749" y="672" width="3" height="42" fill="#00ff00"/>
<rect x="757" y="672" width="3" height="37" fill="#00ff00"/>
<rect x="765" y="672" width="3" height="29" fill="#00ff00"/>
<rect x="773" y="672" width="3" height="22" fill="#00ff00"/>
<rect x="781" y="672" width="3" height="17" fill="#00ff00"/>
<rect x="789" y="672" width="3" height="14" fill="#00ff00"/>
<rect x="797" y="672" width="3" height="12" fill="#00ff00"/>
<rect x="805" y="672" width="3" height="9" fill="#00ff00"/>
<rect x="813" y="672" width="3" height="9" fill="#00ff00"/>
<rect x="821" y="672" width="3" height="14" fill="#00ff00"/>
<rect x="829" y="672" width="3" height="19" fill="#00ff00"/>
<rect x="837" y="672" width="3" height="26" fill="#00ff00"/>
<rect x="845" y="672" width="3" height="31" fill="#00ff00"/>
<rect x="853" y="672" width="3" height="31" fill="#00ff00"/>
<rect x="861" y="672" width="3" height="31" fill="#00ff00"/>
<rect x="869" y="672" width="3" height="33" fill="#00ff00"/>
<rect x="877" y="672" width="3" height="37" fill="#00ff00"/>
<rect x="885" y="672" width="3" height="36" fill="#00ff00"/>
<rect x="893" y="672" width="3" height="34" fill="#00ff00"/>
<rect x="901" y="672" width="3" height="31" fill="#00ff00"/>
<rect x="909" y="672" width="3" height="29" fill="#00ff00"/>
<rect x="917" y="672" width="3" height="23" fill="#00ff00"/>
<rect x="925" y="672" width="3" height="16" fill="#00ff00"/>
<rect x="933" y="672" width="3" height="12" fill="#00ff00"/>
<rect x="941" y="672" width="3" height="8" fill="#00ff00"/>
<rect x="949" y="672" width="3" height="8" fill="#00ff00"/>
<rect x="957" y="672" width="3" height="8" fill="#00ff00"/>
<rect x="965" y="672" width="3" height="5" fill="#00ff00"/>
<rect x="973" y="672" width="3" height="1" fill="#00ff00"/>
<rect x="981" y="672" width="3" height="1" fill="#00ff00"/>
<rect x="989" y="670" width="3" height="2" fill="#00ff00"/>
<rect x="997" y="671" width="3" height="1" fill="#00ff00"/>
<rect x="1005" y="672" width="3" height="1" fill="#00ff00"/>
<rect x="1013" y="672" width="3" height="1" fill="#00ff00"/>
<rect x="1021" y="672" width="3" height="1" fill="#00ff00"/>
<rect x="1029" y="672" width="3" height="1" fill="#00ff00"/>
<rect x="1037" y="672" width="3" height="4" fill="#00ff00"/>
<rect x="1053" y="669" width="3" height="3" fill="#00ff00"/>
<rect x="1061" y="664" width="3" height="8" fill="#00ff00"/>
<rect x="1069" y="660" width="3" height="12" fill="#00ff00"/>
<rect x="1077" y="656" width="3" height="16" fill="#00ff00"/>
<rect x="1085" y="651" width="3" height="21" fill="#00ff00"/>
<rect x="1093" y="649" width="3" height="23" fill="#00ff00"/>
<rect x="1101" y="648" width="3" height="24" fill="#00ff00"/>
<rect x="1109" y="650" width="3" height="22" fill="#00ff00"/>
<rect x="1117" y="651" width="3" height="21" fill="#00ff00"/>
<rect x="1125" y="649" width="3" height="23" fill="#00ff00"/>
<rect x="1133" y="645" width="3" height="27" fill="#00ff00"/>
<rect x="1141" y="643" width="3" height="29" fill="#00ff00"/>
<rect x="1149" y="643" width="3" height="29" fill="#00ff00"/>
<rect x="1157" y="640" width="3" height="32" fill="#00ff00"/>
<rect x="1165" y="638" width="3" height="34" fill="#00ff00"/>
<rect x="1173" y="636" width="3" height="36" fill="#00ff00"/>
<rect x="1181" y="635" width="3" height="37" fill="#00ff00"/>
<rect x="1189" y="636" width="3" height="36" fill="#00ff00"/>
<rect x="1197" y="637" width="3" height="35" fill="#00ff00"/>
<rect x="1205" y="643" width="3" height="29" fill="#00ff00"/>
<rect x="1213" y="650" width="3" height="22" fill="#00ff00"/>
<rect x="1221" y="657" width="3" height="15" fill="#00ff00"/>
<rect x="1229" y="661" width="3" height="11" fill="#00ff00"/>
<rect x="1237" y="661" width="3" height="11" fill="#00ff00"/>
<rect x="1245" y="662" width="3" height="10" fill="#00ff00"/>
<rect x="1253" y="664" width="3" height="8" fill="#00ff00"/>
<rect x="1261" y="668" width="3" height="4" fill="#00ff00"/>
<rect x="1269" y="670" width="3" height="2" fill="#00ff00"/>
<rect x="1277" y="671" width="3" height="1" fill="#00ff00"/>
<rect x="1285" y="672" width="3" height="1" fill="#00ff00"/>
<rect x="1293" y="671" width="3" height="1" fill="#00ff00"/>
<rect x="1301" y="668" width="3" height="4" fill="#00ff00"/>
<rect x="1309" y="666" width="3" height="6" fill="#00ff00"/>
</g>
<polyline points="0,659.3 6,660.8 15,662 22.6,663.1 30.1,665.3 39.2,667.3 46.7,669.1 52.7,671.4 60.2,674.4 70.8,679.7 79.8,685.7 87.3,690.9 94.9,695.5 102.4,700 109.9,705.2 119,709.8 126.5,713.1 134,715.8 143,719.1 150.6,721.1 158.1,721.8 166,723.8 175,724.5 182.6,725.6 190.1,727.8 197.6,730.8 205.2,733.9 212.7,736.9 220.2,739.9 227.8,743.3 235.3,745.2 242.8,747.7 250.3,750.1 257.9,751.2 265.4,752.2 272.9,754.2 280.5,756.4 288,758.3 295.5,760.2 300,761.3 309,761 316.6,758.7 326,756.2 335,750.2 342.6,744.1 350.1,736.9 357.6,727.9 365.2,718.1 372.7,707.5 380.2,697 387.8,690.2 395.3,682.7 402.8,676.4 410.3,672.2 417.9,668.1 425.4,663.9 432.9,660.4 440.5,658.3 448,656.4 455.5,655.6 463,655.3 470.6,654.9 478.1,654.4 487.5,653.3 502.6,652.6 510.1,651.5 534.2,651.5 543.2,653.3 558.3,654.9 567.3,656.4 576.4,660.1 585.4,663.9 594.4,668 600.5,669.9 608,673.4 615.5,675.5 623,678.2 630.6,680 638.1,682 647.5,684.2 655,685 662.6,686.9 670.1,688 677.6,689.9 685.2,691.7 692.7,694.8 700.2,697.8 707.8,699.3 715.3,702.3 722.8,705.3 730.3,708.3 737.9,710.3 745.4,711.3 752.9,712.1 769.5,712.1 775.5,710.3 783.1,707.6 790.6,704.5 798.1,700.5 807.5,697 815,692.9 822.6,689.5 831.6,687.2 839.2,688.5 846.7,689.5 854.2,689.9 861.7,691.7 869.3,694.8 876.8,697.8 884.3,700.8 893.4,703 902.4,704.1 917.5,704.1 925,702.3 932.5,700.5 940,697.5 947.6,694.5 955.1,691.4 962.6,688.7 967.5,686.9 975,683.5 982.6,680.5 990.1,677.5 999.2,676.4 1006.7,674.4 1021.7,674.1 1030.8,672.5 1062.4,672.2 1069.9,671.1 1077.5,668.9 1085,666.9 1092.5,663.9 1100,661.9 1107.6,659.4 1115.1,656.8 1122.6,654.9 1131.7,652.6 1137.6,650.8 1143.5,649.4 1149.3,649 1155.2,648.2 1161.1,647 1166.9,645.5 1174,644.9 1181,642.6 1189.2,642.2 1195.1,640.6 1201,639.4 1206.9,640 1213.9,640.2 1220.9,641.4 1225.6,643.2 1231.5,644.9 1237.4,646.5 1243.2,648.5 1249.1,650.8 1255,653.1 1260.8,656.1 1266.7,659.3 1272.6,662.5 1278.5,664.3 1284.3,665.8 1290.2,667.2 1294.9,668.4 1311,668.4" fill="none" stroke="#ff0000" stroke-width="2" stroke-linejoin="round" shape-rendering="crispEdges"/>
<g shape-rendering="crispEdges">
<line x1="0" y1="814.5" x2="1657" y2="814.5" stroke="#000" stroke-width="1" stroke-dasharray="3 3" stroke-dashoffset="1"/>
<line x1="0" y1="854.5" x2="1657" y2="854.5" stroke="#000" stroke-width="1" stroke-dasharray="3 3" stroke-dashoffset="1"/>
<line x1="0" y1="902.5" x2="1657" y2="902.5" stroke="#000" stroke-width="1" stroke-dasharray="3 3" stroke-dashoffset="1"/>
</g>
<polyline points="-1.5,848.3 6.5,848.3 14.5,859.5 22.5,863.4 30.5,863.4 38.5,878.3 46.5,873.5 54.5,870.5 62.5,870.5 70.5,884.3 78.5,884.3 86.5,884.7 94.5,886.7 102.5,889.6 110.5,880.8 118.5,880.8 126.5,881.8 134.5,884.3 142.5,885.3 150.5,883.8 158.5,883.2 166.5,891.5 174.5,890.5 182.5,897.9 190.5,899.2 198.5,899.2 206.5,899.2 214.5,903.7 222.5,894.4 230.5,884.3 238.5,884.3 246.5,890.5 254.5,883.2 262.5,890.1 270.5,892.1 278.5,896 286.5,899.2 294.5,886.7 302.5,865.4 310.5,852.4 318.5,851.2 326.5,855.1 334.5,851.2 342.5,851.2 350.5,853.4 358.5,850.5 366.5,845.6 374.5,843.5 382.5,844.1 390.5,844.4 398.5,847.5 406.5,852.2 414.5,855.1 422.5,851.2 430.5,850.8 438.5,850.3 446.5,847.5 454.5,845 462.5,844.4 470.5,847.3 478.5,847.5 486.5,851.4 494.5,848.3 502.5,842.7 510.5,841.5 518.5,846.4 526.5,849.5 534.5,854.9 542.5,856.3 550.5,857.2 558.5,853.4 566.5,865 574.5,868.3 582.5,868.3 590.5,863 598.5,862.1 606.5,862.1 614.5,859 622.5,858.6 630.5,867.3 638.5,868.3 646.5,864.4 654.5,868.3 662.5,874.1 670.5,873.1 678.5,873.1 686.5,873.1 694.5,881.8 702.5,884.7 710.5,872.1 718.5,877 726.5,877.4 734.5,878.3 742.5,871.5 750.5,868.8 758.5,860.5 766.5,849.5 774.5,849.3 782.5,850.3 790.5,855.7 798.5,856.1 806.5,852.2 814.5,857.6 822.5,871.7 830.5,872.1 838.5,879.5 846.5,876.4 854.5,866.9 862.5,867.9 870.5,872.1 878.5,876.4 886.5,865.7 894.5,864.4 902.5,864.4 910.5,860.1 918.5,851.8 926.5,848.3 934.5,851.2 942.5,850.3 950.5,858.2 958.5,858.2 966.5,850.7 974.5,848 982.5,854.3 990.5,852.2 998.5,856.8 1006.5,857.5 1014.5,854.9 1022.5,857.5 1030.5,857.5 1038.5,858.5 1046.5,848.4 1054.5,848 1062.5,840.6 1070.5,839.9 1078.5,839.1 1086.5,833.2 1094.5,841.2 1102.5,841.6 1110.5,849.4 1118.5,846.9 1126.5,841.6 1134.5,835.3 1142.5,838 1150.5,841.6 1158.5,834.9 1166.5,834.4 1174.5,833.6 1182.5,835.9 1190.5,838 1198.5,838.5 1206.5,855.4 1214.5,861.3 1222.5,862.3 1230.5,860 1238.5,851.6 1246.5,851.8 1254.5,854.7 1262.5,863.8 1270.5,859.2 1278.5,857.5 1286.5,856.4 1294.5,853.7 1302.5,846.9 1310.5,844.2" fill="none" stroke="#1e90ff" stroke-width="2" stroke-linejoin="round" shape-rendering="crispEdges"/>
<g shape-rendering="crispEdges">
<rect x="0" y="0" width="1704" height="18" fill="#f0f0f0"/>
<rect x="0" y="18" width="1704" height="1" fill="#aaaaaa"/>
<rect x="0" y="19" width="1704" height="1" fill="#6c6c6c"/>
<rect x="0" y="20" width="1704" height="2" fill="#ffffff"/>
<rect x="1703" y="20" width="1" height="923" fill="#e3e3e3"/>
<rect x="0" y="22" width="1658" height="1" fill="#000"/>
<rect x="1657" y="22" width="1" height="604" fill="#000"/>
<rect x="0" y="625" width="1658" height="1" fill="#000"/>
<rect x="0" y="627" width="1658" height="1" fill="#000"/>
<rect x="1657" y="627" width="1" height="157" fill="#000"/>
<rect x="0" y="783" width="1658" height="1" fill="#000"/>
<rect x="0" y="785" width="1658" height="1" fill="#000"/>
<rect x="1657" y="785" width="1" height="139" fill="#000"/>
<rect x="0" y="923" width="1658" height="1" fill="#000"/>
<rect x="1658" y="28" width="2" height="1" fill="#000"/>
<rect x="1658" y="61" width="2" height="1" fill="#000"/>
<rect x="1658" y="94" width="2" height="1" fill="#000"/>
<rect x="1658" y="127" width="2" height="1" fill="#000"/>
<rect x="1658" y="160" width="2" height="1" fill="#000"/>
<rect x="1658" y="193" width="2" height="1" fill="#000"/>
<rect x="1658" y="226" width="2" height="1" fill="#000"/>
<rect x="1658" y="259" width="2" height="1" fill="#000"/>
<rect x="1658" y="292" width="2" height="1" fill="#000"/>
<rect x="1658" y="325" width="2" height="1" fill="#000"/>
<rect x="1658" y="358" width="2" height="1" fill="#000"/>
<rect x="1658" y="391" width="2" height="1" fill="#000"/>
<rect x="1658" y="424" width="2" height="1" fill="#000"/>
<rect x="1658" y="457" width="2" height="1" fill="#000"/>
<rect x="1658" y="490" width="2" height="1" fill="#000"/>
<rect x="1658" y="523" width="2" height="1" fill="#000"/>
<rect x="1658" y="556" width="2" height="1" fill="#000"/>
<rect x="1658" y="589" width="2" height="1" fill="#000"/>
<rect x="1658" y="622" width="2" height="1" fill="#000"/>
<rect x="1658" y="629" width="2" height="1" fill="#000"/>
<rect x="1658" y="672" width="2" height="1" fill="#000"/>
<rect x="1658" y="783" width="2" height="1" fill="#000"/>
<rect x="1658" y="787" width="2" height="1" fill="#000"/>
<rect x="1658" y="814" width="2" height="1" fill="#000"/>
<rect x="1658" y="854" width="2" height="1" fill="#000"/>
<rect x="1658" y="902" width="2" height="1" fill="#000"/>
<rect x="-2" y="924" width="1" height="3" fill="#000"/>
<rect x="62" y="924" width="1" height="3" fill="#000"/>
<rect x="126" y="924" width="1" height="3" fill="#000"/>
<rect x="190" y="924" width="1" height="3" fill="#000"/>
<rect x="254" y="924" width="1" height="3" fill="#000"/>
<rect x="318" y="924" width="1" height="3" fill="#000"/>
<rect x="382" y="924" width="1" height="3" fill="#000"/>
<rect x="446" y="924" width="1" height="3" fill="#000"/>
<rect x="510" y="924" width="1" height="3" fill="#000"/>
<rect x="574" y="924" width="1" height="3" fill="#000"/>
<rect x="638" y="924" width="1" height="3" fill="#000"/>
<rect x="702" y="924" width="1" height="3" fill="#000"/>
<rect x="766" y="924" width="1" height="3" fill="#000"/>
<rect x="830" y="924" width="1" height="3" fill="#000"/>
<rect x="894" y="924" width="1" height="3" fill="#000"/>
<rect x="958" y="924" width="1" height="3" fill="#000"/>
<rect x="1022" y="924" width="1" height="3" fill="#000"/>
<rect x="1086" y="924" width="1" height="3" fill="#000"/>
<rect x="1150" y="924" width="1" height="3" fill="#000"/>
<rect x="1214" y="924" width="1" height="3" fill="#000"/>
<rect x="1278" y="924" width="1" height="3" fill="#000"/>
<rect x="1342" y="924" width="1" height="3" fill="#000"/>
</g>
<polygon points="1318.5,22.5 1328.5,22.5 1323.5,28" fill="#000"/>
<text x="1663" y="32" fill="#000" stroke="#000" >25084.0</text>
<text x="1663" y="65" fill="#000" stroke="#000" >24693.0</text>
<text x="1663" y="98" fill="#000" stroke="#000" >24302.0</text>
<text x="1663" y="131" fill="#000" stroke="#000" >23922.5</text>
<text x="1663" y="164" fill="#000" stroke="#000" >23531.5</text>
<text x="1663" y="197" fill="#000" stroke="#000" >23140.5</text>
<text x="1663" y="230" fill="#000" stroke="#000" >22749.5</text>
<text x="1663" y="263" fill="#000" stroke="#000" >22370.0</text>
<text x="1663" y="296" fill="#000" stroke="#000" >21979.0</text>
<text x="1663" y="329" fill="#000" stroke="#000" >21588.0</text>
<text x="1663" y="362" fill="#000" stroke="#000" >21197.0</text>
<text x="1663" y="395" fill="#000" stroke="#000" >20817.5</text>
<text x="1663" y="428" fill="#000" stroke="#000" >20426.5</text>
<text x="1663" y="461" fill="#000" stroke="#000" >20035.5</text>
<text x="1663" y="494" fill="#000" stroke="#000" >19656.0</text>
<text x="1663" y="527" fill="#000" stroke="#000" >19265.0</text>
<text x="1663" y="560" fill="#000" stroke="#000" >18874.0</text>
<text x="1663" y="593" fill="#000" stroke="#000" >18483.0</text>
<text x="1663" y="626" fill="#000" stroke="#000" >18103.5</text>
<g shape-rendering="crispEdges">
<rect x="1659" y="266" width="41" height="11" fill="#ff0000"/>
<rect x="1659" y="296" width="41" height="11" fill="#ff0000"/>
<rect x="1659" y="325" width="41" height="11" fill="#000000"/>
<rect x="1659" y="346" width="41" height="11" fill="#ffa500"/>
<rect x="1659" y="376" width="41" height="11" fill="#0000ff"/>
<rect x="1659" y="410" width="41" height="11" fill="#0000ff"/>
</g>
<text x="1663" y="275" fill="#ffffff" stroke="#ffffff" >22212.9</text>
<text x="1663" y="305" fill="#ffffff" stroke="#ffffff" >21857.5</text>
<text x="1663" y="334" fill="#ffffff" stroke="#ffffff" >21531.0</text>
<text x="1663" y="355" fill="#ffffff" stroke="#ffffff" >21273.8</text>
<text x="1663" y="385" fill="#ffffff" stroke="#ffffff" >20921.6</text>
<text x="1663" y="419" fill="#ffffff" stroke="#ffffff" >20522.5</text>
<text x="1661" y="638" fill="#000" stroke="#000" >440.4</text>
<text x="1661" y="676" fill="#000" stroke="#000" >0.00</text>
<text x="1661" y="780" fill="#000" stroke="#000" >-1102.21</text>
<text x="1661" y="796" fill="#000" stroke="#000" >100</text>
<text x="1661" y="818" fill="#000" stroke="#000" >80</text>
<text x="1661" y="858" fill="#000" stroke="#000" >50</text>
<text x="1661" y="906" fill="#000" stroke="#000" >15</text>
<text x="1661" y="920" fill="#000" stroke="#000" >0</text>
<text x="2" y="640" fill="#000" stroke="#000" style="letter-spacing:-0.4px;word-spacing:1px">MACD(12,26,9) 64.34 42.48</text>
<text x="3" y="798" fill="#000" stroke="#000" style="letter-spacing:-0.4px;word-spacing:1px">RSI(15) 58.7849</text>
<polygon points="1,29 8,29 4.5,33" fill="#000"/>
<text x="13" y="34" fill="#000" stroke="#000" style="word-spacing:1px">HK50-,H4 &#160;21401.0 21536.5 21285.5 21531.0</text>
<text x="-3" y="936" fill="#000" stroke="#000" style="letter-spacing:-0.42px">17 Feb 2022</text>
<text x="61" y="936" fill="#000" stroke="#000" style="letter-spacing:-0.42px">23 Feb 05:00</text>
<text x="125" y="936" fill="#000" stroke="#000" style="letter-spacing:-0.42px">1 Mar 05:00</text>
<text x="189" y="936" fill="#000" stroke="#000" style="letter-spacing:-0.42px">7 Mar 05:00</text>
<text x="253" y="936" fill="#000" stroke="#000" style="letter-spacing:-0.42px">11 Mar 05:00</text>
<text x="317" y="936" fill="#000" stroke="#000" style="letter-spacing:-0.42px">17 Mar 05:00</text>
<text x="381" y="936" fill="#000" stroke="#000" style="letter-spacing:-0.42px">23 Mar 05:00</text>
<text x="445" y="936" fill="#000" stroke="#000" style="letter-spacing:-0.42px">29 Mar 05:00</text>
<text x="509" y="936" fill="#000" stroke="#000" style="letter-spacing:-0.42px">4 Apr 05:00</text>
<text x="573" y="936" fill="#000" stroke="#000" style="letter-spacing:-0.42px">11 Apr 05:00</text>
<text x="637" y="936" fill="#000" stroke="#000" style="letter-spacing:-0.42px">19 Apr 05:00</text>
<text x="701" y="936" fill="#000" stroke="#000" style="letter-spacing:-0.42px">25 Apr 05:00</text>
<text x="765" y="936" fill="#000" stroke="#000" style="letter-spacing:-0.42px">29 Apr 05:00</text>
<text x="829" y="936" fill="#000" stroke="#000" style="letter-spacing:-0.42px">6 May 05:00</text>
<text x="893" y="936" fill="#000" stroke="#000" style="letter-spacing:-0.42px">13 May 05:00</text>
<text x="957" y="936" fill="#000" stroke="#000" style="letter-spacing:-0.42px">19 May 05:00</text>
<text x="1021" y="936" fill="#000" stroke="#000" style="letter-spacing:-0.42px">25 May 05:00</text>
<text x="1085" y="936" fill="#000" stroke="#000" style="letter-spacing:-0.42px">31 May 05:00</text>
<text x="1149" y="936" fill="#000" stroke="#000" style="letter-spacing:-0.42px">7 Jun 05:00</text>
<text x="1213" y="936" fill="#000" stroke="#000" style="letter-spacing:-0.42px">13 Jun 05:00</text>
<text x="1277" y="936" fill="#000" stroke="#000" style="letter-spacing:-0.42px">17 Jun 05:00</text>
<g id="toolbar">
<!-- pressed button backgrounds -->
<g shape-rendering="crispEdges">
<rect x="293" y="0" width="24" height="16" fill="#f7f7f7"/>
<rect x="444" y="0" width="25" height="16" fill="#f7f7f7"/>
<rect x="473" y="0" width="25" height="16" fill="#f7f7f7"/>
<rect x="634" y="0" width="23" height="16" fill="#f7f7f7"/>
<rect x="1078" y="0" width="25" height="16" fill="#f7f7f7"/>
<rect x="1078" y="0" width="1" height="16" fill="#a0a0a0"/>
<!-- separators -->
<rect x="18" y="0" width="1" height="16" fill="#a0a0a0"/>
<rect x="254" y="0" width="1" height="17" fill="#909090"/><rect x="255" y="0" width="1" height="17" fill="#ffffff"/>
<rect x="292" y="0" width="1" height="16" fill="#a0a0a0"/>
<rect x="349" y="0" width="1" height="16" fill="#a0a0a0"/>
<rect x="439" y="0" width="1" height="16" fill="#909090"/>
<rect x="444" y="0" width="1" height="16" fill="#909090"/>
<rect x="472" y="0" width="1" height="16" fill="#a0a0a0"/>
<rect x="501" y="0" width="1" height="16" fill="#a0a0a0"/>
<rect x="622" y="0" width="1" height="17" fill="#909090"/><rect x="623" y="0" width="1" height="17" fill="#ffffff"/>
<rect x="632" y="0" width="1" height="16" fill="#a0a0a0"/>
<rect x="689" y="0" width="1" height="16" fill="#a0a0a0"/>
<rect x="928" y="0" width="1" height="17" fill="#909090"/><rect x="929" y="0" width="1" height="17" fill="#ffffff"/>
<rect x="1189" y="0" width="1" height="18" fill="#909090"/><rect x="1190" y="0" width="1" height="18" fill="#ffffff"/>
</g>
<!-- grips -->
<g fill="#a8a8a8" shape-rendering="crispEdges">
<rect x="258" y="0" width="3" height="1"/><rect x="258" y="2" width="3" height="1"/><rect x="258" y="4" width="3" height="1"/><rect x="258" y="6" width="3" height="1"/><rect x="258" y="8" width="3" height="1"/><rect x="258" y="10" width="3" height="1"/><rect x="258" y="12" width="3" height="1"/><rect x="258" y="14" width="3" height="1"/>
<rect x="626" y="0" width="3" height="1"/><rect x="626" y="2" width="3" height="1"/><rect x="626" y="4" width="3" height="1"/><rect x="626" y="6" width="3" height="1"/><rect x="626" y="8" width="3" height="1"/><rect x="626" y="10" width="3" height="1"/><rect x="626" y="12" width="3" height="1"/><rect x="626" y="14" width="3" height="1"/>
<rect x="932" y="0" width="3" height="1"/><rect x="932" y="2" width="3" height="1"/><rect x="932" y="4" width="3" height="1"/><rect x="932" y="6" width="3" height="1"/><rect x="932" y="8" width="3" height="1"/><rect x="932" y="10" width="3" height="1"/><rect x="932" y="12" width="3" height="1"/><rect x="932" y="14" width="3" height="1"/>
</g>
<!-- magnifier (partial) -->
<circle cx="1.5" cy="6.5" r="5" fill="#e4f1fb" stroke="#6d9fd8" stroke-width="1.2"/>
<rect x="-2" y="3" width="4" height="6" fill="#9ab0c4"/>
<line x1="6" y1="10.5" x2="9.5" y2="14" stroke="#c9a227" stroke-width="2.6" stroke-linecap="round"/>
<!-- new order icon -->
<path d="M28.5,-1.5 H37.5 L40.5,1.5 V11.5 H28.5 Z" fill="#ffffff" stroke="#7a7a7a" stroke-width="1"/>
<g stroke="#8a8a8a" stroke-width="0.9"><line x1="30" y1="4.5" x2="36" y2="4.5"/><line x1="30" y1="6.5" x2="35" y2="6.5"/><line x1="30" y1="8.5" x2="33" y2="8.5"/></g>
<rect x="30" y="-1" width="2" height="2" fill="#8a8a8a"/>
<path d="M36,4.5 H40 V8.5 H44 V12.5 H40 V16.5 H36 V12.5 H32 V8.5 H36 Z" fill="#1fd01f" stroke="#0b7a0b" stroke-width="1"/>
<!-- 新订单 -->
<g fill="none" stroke="#111" stroke-width="1" shape-rendering="crispEdges">
<path d="M47,0.5 H53 M47.5,3.5 H53 M47,6.5 H53.5 M50.5,3.5 V10 M48.5,7.5 L47,10 M52,7.5 L53.5,9.5 M48.5,2 L49,3 M52,1.5 L51.5,3"/>
<path d="M58.5,-0.5 L55,1.5 V6 Q55,8.5 54,10 M55,4.5 H59.5 M57.5,4.5 V10"/>
<path d="M60.5,0.5 L61.5,1.5 M60,4.5 H61.5 V9.5 L63,8"/>
<path d="M63.5,0.5 H70.5 M67.5,0.5 V9.5 H65"/>
<path d="M73.5,1.5 H81.5 V5.5 H73.5 Z M73.5,3.5 H81.5 M77.5,1.5 V10 M71,7.5 H83 M74,-0.5 L75,0.5 M81,-0.5 L80,0.5"/>
</g>
<!-- gold book -->
<defs>
<linearGradient id="gbk" x1="0" y1="0" x2="1" y2="1"><stop offset="0" stop-color="#f7d75a"/><stop offset="1" stop-color="#d89a18"/></linearGradient>
<linearGradient id="cld" x1="0" y1="0" x2="0" y2="1"><stop offset="0" stop-color="#ffffff"/><stop offset="1" stop-color="#c9d6e6"/></linearGradient>
<linearGradient id="hat" x1="0" y1="0" x2="0" y2="1"><stop offset="0" stop-color="#8fd0f5"/><stop offset="1" stop-color="#2f8fd6"/></linearGradient>
<linearGradient id="cone" x1="0" y1="0" x2="0" y2="1"><stop offset="0" stop-color="#fff2a0"/><stop offset="1" stop-color="#f0c020"/></linearGradient>
</defs>
<path d="M95.5,7 L100.5,-0.5 L110.5,7.5 L103,13.5 Z" fill="url(#gbk)" stroke="#b07a10" stroke-width="0.9"/>
<path d="M96.5,9 L103,14 L110.5,8.5" fill="none" stroke="#a86a10" stroke-width="1.3"/>
<!-- cloud icon -->
<rect x="125" y="-2" width="11" height="9" fill="#1e8ff0"/>
<rect x="125" y="-2" width="1.5" height="9" fill="#5ab0ff"/>
<path d="M129,3 H134 M129,1 H133" stroke="#d8ecff" stroke-width="1"/>
<path d="M124.5,13.5 Q122.5,13.5 123,11.3 Q123.6,9.3 126,9.6 Q127,6.2 131,6.5 Q134.3,5.8 135.5,8.8 Q138.8,8.6 138.8,11.4 Q138.6,13.5 136.3,13.5 Z" fill="url(#cld)" stroke="#50709c" stroke-width="0.9"/>
<!-- signal icon -->
<g fill="none" stroke-width="1">
<path d="M159,-2 A7.5,7.5 0 0 0 159,13" stroke="#7aa4e0"/>
<path d="M159,-2 A7.5,7.5 0 0 1 159,13" stroke="#b8d8c0"/>
<path d="M159,0.5 A5,5 0 0 0 159,10.5" stroke="#4a80d0"/>
<path d="M159,0.5 A5,5 0 0 1 159,10.5" stroke="#90c8a0"/>
<path d="M159,3 A2.6,2.6 0 0 0 159,8.2" stroke="#2a60c0"/>
</g>
<circle cx="159" cy="5.6" r="1.5" fill="#1f55c0"/>
<path d="M159.5,6 V13.5" stroke="#1aa01a" stroke-width="1.5"/>
<path d="M160,13 Q164,12 166,8" fill="none" stroke="#60b070" stroke-width="1.2"/>
<!-- auto trading icon -->
<path d="M178.5,5 L193.5,5 L186,13.5 Z" fill="url(#cone)" stroke="#c8a020" stroke-width="0.8"/>
<ellipse cx="186" cy="2" rx="8" ry="3.6" fill="url(#hat)" stroke="#2a78c0" stroke-width="0.7"/>
<circle cx="190.8" cy="9.3" r="4.2" fill="#d8261a"/>
<rect x="189.2" y="7.7" width="3.2" height="3.2" fill="#ffffff"/>
<!-- 自动交易 -->
<g fill="none" stroke="#111" stroke-width="1" shape-rendering="crispEdges">
<path d="M200.5,-0.5 V10 M208.5,-0.5 V10 M200.5,1.5 H208.5 M200.5,4.5 H208.5 M200.5,6.5 H208.5 M200.5,9.5 H208.5"/>
<path d="M211.5,0.5 H215.5 M211,3.5 H216.5 M213,3.5 L211.5,7.5 H215.5 M214.5,6 L216,8.5 M216.5,1.5 H221.5 V9.5 H220 M218.5,-0.5 V4 Q218,8 216.5,10"/>
<path d="M228.5,-0.5 V1 M223.5,1.5 H234.5 M226,3.5 L224.5,5.5 M231.5,3.5 L233.5,5.5 M226,6 Q229,9 234,10 M232,6 Q229,9 224,10"/>
<path d="M237.5,-0.5 V3.5 H244.5 V-0.5 M237.5,1.5 H244.5 M238,5.5 H245.5 V8 Q245.5,10 244,10 M237,7.5 L236,9 M239.5,5.5 L237.5,9.5 M242,5.5 L239.5,10 M244,6.5 L242,10"/>
</g>
<!-- bar chart icon -->
<g stroke="#505050" stroke-width="1" fill="none" shape-rendering="crispEdges">
<path d="M272.5,0 V14 M270,11.5 H283"/>
</g>
<path d="M282,9.5 L284.5,11.5 L282,13.5 Z M270.5,1.5 L272.5,-0.5 L274.5,1.5 Z" fill="#505050"/>
<path d="M276.5,8.5 H278.5 V1.5 H280.5 M278.5,1 V9.5" fill="none" stroke="#1a9a1a" stroke-width="1" shape-rendering="crispEdges"/>
<!-- candle icon -->
<g stroke="#505050" stroke-width="1" fill="none" shape-rendering="crispEdges">
<path d="M300.5,0 V14 M298,11.5 H311"/>
</g>
<path d="M310,9.5 L312.5,11.5 L310,13.5 Z" fill="#505050"/>
<rect x="304" y="-1" width="4" height="8" fill="#3ee03e" stroke="#0f8f0f" stroke-width="1"/>
<rect x="305.5" y="7" width="1" height="2.5" fill="#0f8f0f"/>
<!-- line icon -->
<g stroke="#505050" stroke-width="1" fill="none" shape-rendering="crispEdges">
<path d="M328.5,0 V14 M326,11.5 H339"/>
</g>
<path d="M338,9.5 L340.5,11.5 L338,13.5 Z" fill="#505050"/>
<path d="M327,8.8 Q330.5,3 333,3 Q335.5,3.2 338.5,7.3" fill="none" stroke="#2a9a2a" stroke-width="1.1"/>
<!-- zoom in -->
<line x1="367.5" y1="8" x2="373" y2="13.5" stroke="#d4a820" stroke-width="2.8" stroke-linecap="round"/>
<circle cx="364" cy="3.8" r="5.4" fill="#dff0fb" stroke="#3a78c8" stroke-width="1.1"/>
<path d="M361,3.8 H367 M364,0.8 V6.8" stroke="#4a86b0" stroke-width="1.6"/>
<!-- zoom out -->
<line x1="395.5" y1="8" x2="401" y2="13.5" stroke="#d4a820" stroke-width="2.8" stroke-linecap="round"/>
<circle cx="392" cy="3.8" r="5.4" fill="#dff0fb" stroke="#3a78c8" stroke-width="1.1"/>
<path d="M389,3.8 H395" stroke="#4a86b0" stroke-width="1.6"/>
<!-- tile -->
<g shape-rendering="crispEdges">
<rect x="414" y="-1" width="8" height="7" fill="#3aa524"/>
<rect x="422" y="-1" width="8" height="7" fill="#2a5fd8"/>
<rect x="414" y="6" width="8" height="8" fill="#2a5fd8"/>
<rect x="422" y="6" width="8" height="8" fill="#3aa524"/>
<rect x="415.5" y="1" width="5" height="3" fill="#f4f4f4"/>
<rect x="423.5" y="1" width="5" height="3" fill="#f4f4f4"/>
<rect x="415.5" y="9" width="5" height="3" fill="#f4f4f4"/>
<rect x="423.5" y="9" width="5" height="3" fill="#f4f4f4"/>
</g>
<!-- autoscroll -->
<g stroke="#505050" stroke-width="1" fill="none" shape-rendering="crispEdges"><path d="M452.5,0 V14 M450,11.5 H463"/></g>
<path d="M462,9.5 L464.5,11.5 L462,13.5 Z" fill="#505050"/>
<path d="M457.5,2.5 L461.5,5.5 L457.5,8.5 Z" fill="#1fb01f" stroke="#0f8f0f" stroke-width="0.6"/>
<!-- chart shift -->
<g stroke="#505050" stroke-width="1" fill="none" shape-rendering="crispEdges"><path d="M480.5,0 V14 M478,11.5 H491"/></g>
<path d="M490,9.5 L492.5,11.5 L490,13.5 Z" fill="#505050"/>
<rect x="486" y="0" width="1" height="10" fill="#2a6fc0"/>
<path d="M488,5.5 H492 M488,5.5 L490,3.5 M488,5.5 L490,7.5" stroke="#d04010" stroke-width="1.1" fill="none"/>
<!-- indicators -->
<path d="M512.5,-1.5 H519.5 L522.5,1.5 V11.5 H512.5 Z" fill="#ffffff" stroke="#7a7a7a" stroke-width="1"/>
<path d="M518,4.5 H521.5 V8 H525.5 V11.5 H521.5 V15.5 H518 V11.5 H514 V8 H518 Z" fill="#1fd01f" stroke="#0b7a0b" stroke-width="1"/>
<path d="M533,5 H538 L535.5,7.5 Z" fill="#111"/>
<!-- clock -->
<circle cx="557" cy="5.5" r="7.4" fill="#1d63c8"/>
<circle cx="557" cy="5.5" r="5" fill="#f2f4f6"/>
<path d="M557,1.5 V5.5 H560" stroke="#333" stroke-width="1" fill="none"/>
<path d="M571.5,5 H576.5 L574,7.5 Z" fill="#111"/>
<!-- templates -->
<rect x="588.5" y="-1.5" width="15" height="13" fill="#ffffff" stroke="#3a7ad0" stroke-width="1"/>
<rect x="589" y="-1" width="14" height="2" fill="#7aa9e6"/>
<rect x="589" y="5" width="14" height="1" fill="#3a7ad0"/>
<path d="M590,3.5 L593,2.5 L596,3.5 L599,2.5 L602,3.5" stroke="#b03020" stroke-width="0.9" fill="none"/>
<path d="M590,9.5 L593,8 L596,9.5 L599,7.5 L602,9.5" stroke="#20a020" stroke-width="0.9" fill="none"/>
<path d="M611,5 H616 L613.5,7.5 Z" fill="#111"/>
<!-- cursor -->
<path d="M640.5,-0.5 L640.5,9 L643,7 L645,11 L646.5,10.2 L644.6,6.3 L647.8,6 Z" fill="#505050"/>
<!-- crosshair -->
<path d="M665,6.5 H680 M672.5,-1 V13.5" stroke="#505050" stroke-width="1" shape-rendering="crispEdges"/>
<!-- drawing tools -->
<path d="M706.5,-1 V12.5" stroke="#505050" stroke-width="1.2" shape-rendering="crispEdges"/>
<path d="M729,6.5 H741" stroke="#505050" stroke-width="1.2" shape-rendering="crispEdges"/>
<path d="M757,13 L769,1" stroke="#606060" stroke-width="1"/>
<g stroke="#555" stroke-width="1" fill="none">
<path d="M783,7 L792,-1 M785,11 L795,2 M785,4 L788,7 M787,2 L790,5 M789,0 L792,3"/>
</g>
<text x="794" y="15" fill="#404040" style="font-size:7px;font-weight:bold;letter-spacing:0">E</text>
<g fill="#606060" shape-rendering="crispEdges">
<rect x="812" y="1" width="1" height="1"/><rect x="814" y="1" width="1" height="1"/><rect x="816" y="1" width="1" height="1"/><rect x="818" y="1" width="1" height="1"/><rect x="820" y="1" width="1" height="1"/><rect x="822" y="1" width="1" height="1"/><rect x="824" y="1" width="1" height="1"/>
<rect x="812" y="5" width="1" height="1"/><rect x="814" y="5" width="1" height="1"/><rect x="816" y="5" width="1" height="1"/><rect x="818" y="5" width="1" height="1"/><rect x="820" y="5" width="1" height="1"/><rect x="822" y="5" width="1" height="1"/><rect x="824" y="5" width="1" height="1"/>
<rect x="812" y="9" width="1" height="1"/><rect x="814" y="9" width="1" height="1"/><rect x="816" y="9" width="1" height="1"/><rect x="818" y="9" width="1" height="1"/><rect x="820" y="9" width="1" height="1"/><rect x="822" y="9" width="1" height="1"/>
</g>
<text x="822" y="15" fill="#404040" style="font-size:7px;font-weight:bold;letter-spacing:0">F</text>
<text x="842.5" y="11" fill="#555" style="font-size:11px;font-weight:bold;letter-spacing:0">A</text>
<rect x="869.5" y="-0.5" width="11" height="12.5" fill="none" stroke="#707070" stroke-width="1" stroke-dasharray="1 1"/>
<text x="871" y="10" fill="#555" style="font-size:11px;font-weight:bold;letter-spacing:0">T</text>
<path d="M897,1 L900,-1.5 L903,1 L900,3.5 Z M904,6 L907,4 L910,7 L907,10 Z" fill="#505050"/>
<path d="M899,5 L901,7.5 L905,2.5" stroke="#505050" stroke-width="1.2" fill="none"/>
<path d="M917,5 H922 L919.5,7.5 Z" fill="#111"/>
<!-- periods -->
<g fill="#222">
<text x="943" y="10">M1</text>
<text x="971" y="10">M5</text>
<text x="997" y="10">M15</text>
<text x="1025.5" y="10">M30</text>
<text x="1056" y="10">H1</text>
<text x="1083" y="10">H4</text>
<text x="1112" y="10">D1</text>
<text x="1140" y="10">W1</text>
<text x="1166.5" y="10">MN</text>
</g>
<!-- search -->
<line x1="1653" y1="10.5" x2="1656.5" y2="7" stroke="#2a64c8" stroke-width="2.2" stroke-linecap="round"/>
<circle cx="1659.5" cy="3.5" r="3.6" fill="none" stroke="#2a64c8" stroke-width="1.4"/>
<!-- chat + badge -->
<path d="M1677,9 Q1677,5 1682,5 Q1687,5 1687,9 Q1687,12.5 1682,12.5 L1680,14.5 L1680,12.3 Q1677,11.5 1677,9 Z" fill="#e8e8e8" stroke="#b0b0b0" stroke-width="0.8"/>
<circle cx="1690.8" cy="3.6" r="7.6" fill="#d9261c"/>
<text x="1688.2" y="7.5" fill="#ffffff" style="font-size:10px;letter-spacing:0">1</text>
</g>

</svg></body></html>
